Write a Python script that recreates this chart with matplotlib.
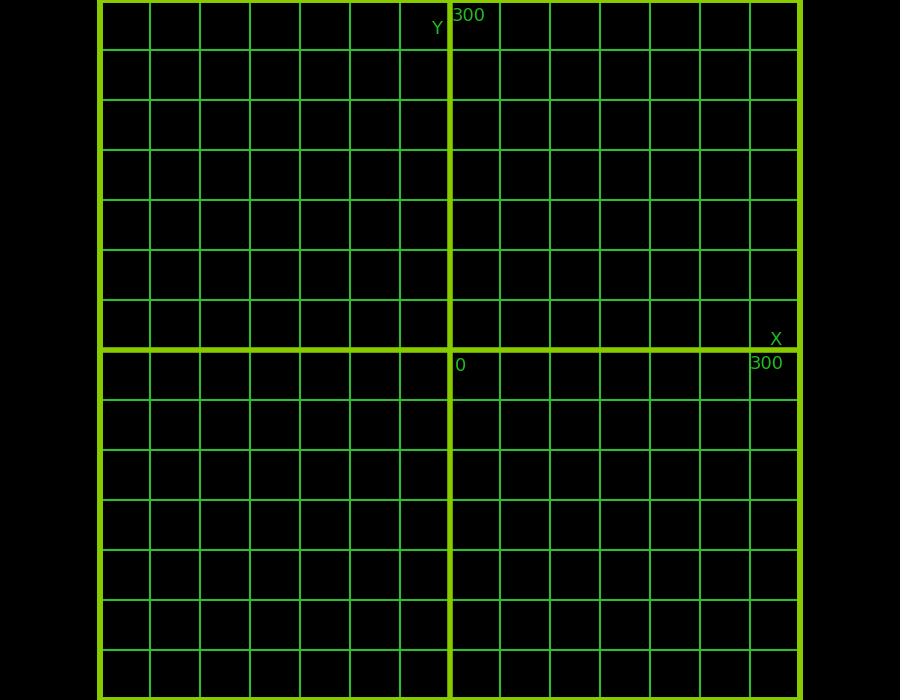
import matplotlib
matplotlib.use("Agg")
import matplotlib.pyplot as plt
import numpy as np

grid_ticks = list(range(-350, 351, 50))
axis_limit = 350
labels = [
    ("Y", -19, 316),
    ("300", 2, 329),
    ("X", 319, 5),
    ("300", 300, -19),
    ("0", 5, -21),
]

thin_color = "#33bb33"
thick_color = "#88cc00"
text_color = "#22bb22"

fig = plt.figure(figsize=(9, 7), dpi=100, facecolor="black")
ax = fig.add_axes([100 / 900, 0, 700 / 900, 1])
ax.set_facecolor("black")
ax.set_xlim(-axis_limit, axis_limit)
ax.set_ylim(-axis_limit, axis_limit)
ax.set_axis_off()

for t in grid_ticks:
    if abs(t) == axis_limit or t == 0:
        continue
    ax.axvline(t, color=thin_color, lw=1.5)
    ax.axhline(t, color=thin_color, lw=1.5)

for t in [-axis_limit, 0, axis_limit]:
    w = 4.3 if abs(t) == axis_limit else 4.0
    ax.axvline(t, color=thick_color, lw=w, clip_on=False)
    ax.axhline(t, color=thick_color, lw=w, clip_on=False)

for s, x, y in labels:
    ax.text(x, y, s, color=text_color, fontsize=13, ha="left", va="baseline",
            family="DejaVu Sans")

fig.savefig("out.png", dpi=100, facecolor="black")
